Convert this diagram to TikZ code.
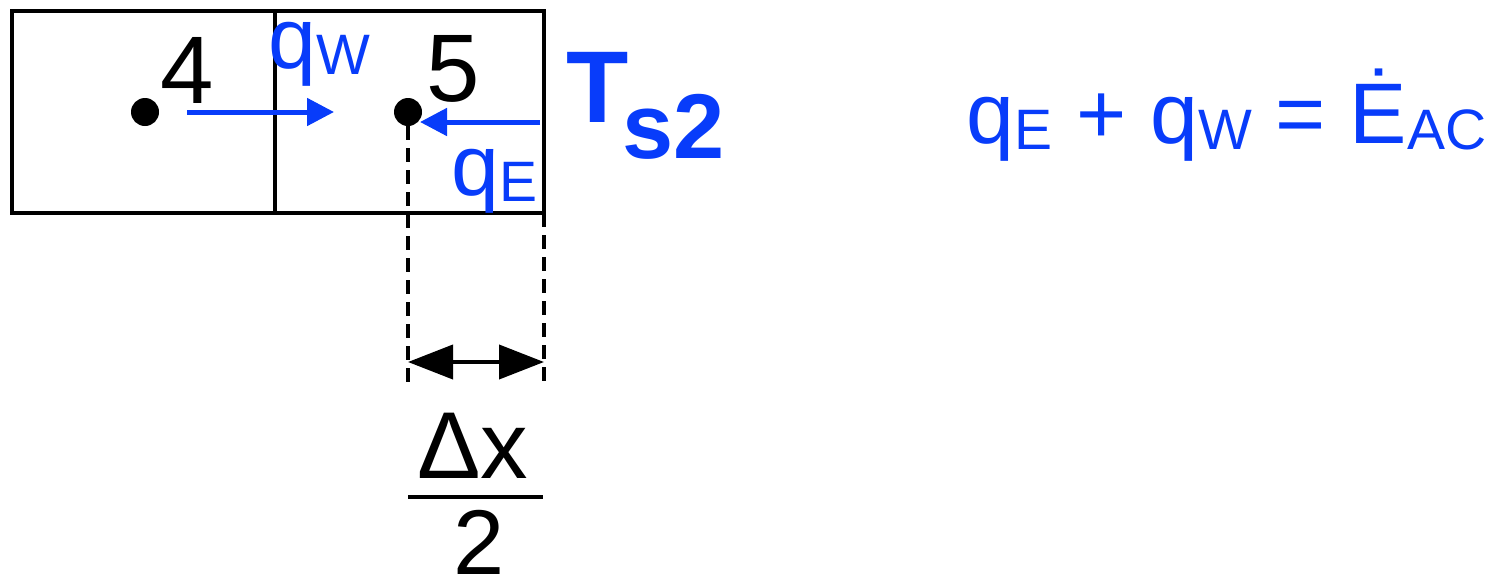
\documentclass[tikz,border=0pt]{standalone}
\usepackage{fontspec}
\setmainfont{Liberation Sans}
\usetikzlibrary{arrows.meta}
\definecolor{fluxblue}{RGB}{8,60,250}
\newcommand{\lowsub}[1]{\raisebox{-3pt}{\fontsize{28.5}{30}\selectfont #1}}
\tikzset{
  cell/.style={draw=black, line width=2pt},
  ptdot/.style={circle, fill=black, minimum size=14pt, inner sep=0pt},
  flux/.style={-{Triangle[length=13.5pt, width=13.5pt]}, line width=2.5pt, fluxblue},
  guide/.style={black, line width=2pt, dash pattern=on 7pt off 4pt},
  dimarr/.style={{Triangle[length=22.5pt, width=17pt]}-{Triangle[length=22.5pt, width=17pt]},
                 line width=2pt},
  numlbl/.style={inner sep=0pt, anchor=base west, font=\fontsize{48}{52}\selectfont},
  qlbl/.style={inner sep=0pt, anchor=base west, fluxblue, font=\fontsize{43}{50}\selectfont},
}
\begin{document}
\begin{tikzpicture}[x=0.5pt, y=-0.5pt]
  \useasboundingbox (0,0) rectangle (1492,584);

  % ── CELLS ───────────────────────────────────────────────
  \draw[cell] (12,11) rectangle (544,213);
  \draw[cell] (275,11) -- (275,213);

  % nodal points
  \node[ptdot] (n4) at (145,112) {};
  \node[ptdot] (n5) at (408,112) {};
  \node[numlbl] (l4) at (160,103) {4};
  \node[numlbl] (l5) at (426,101) {5};

  % ── FLUXES ──────────────────────────────────────────────
  \coordinate (qw0) at (187,112); \coordinate (qw1) at (334,112);
  \draw[flux] (qw0) -- (qw1);
  \node[qlbl] (qw) at (268,68) {q\lowsub{W}};
  \coordinate (qe0) at (540,122); \coordinate (qe1) at (420,122);
  \draw[flux] (qe0) -- (qe1);
  \node[qlbl] (qe) at (451,195) {q\lowsub{E}};

  % surface temperature
  \node[inner sep=0pt, anchor=base west, fluxblue, font=\fontsize{51}{55}\selectfont\bfseries]
    (ts) at (566,122) {T\kern-3pt\raisebox{-18pt}{\fontsize{46}{50}\selectfont s2}};

  % ── HALF CELL WIDTH ─────────────────────────────────────
  \coordinate (d5) at (408,383);
  \coordinate (b5) at (544,213); \coordinate (db) at (544,383);
  \draw[guide] (n5.south) -- (d5);
  \draw[guide] (b5) -- (db);
  \coordinate (a0) at (408,362); \coordinate (a1) at (544,362);
  \draw[dimarr] (a0) -- (a1);
  \node[inner sep=0pt, anchor=base, font=\fontsize{47.5}{52}\selectfont] (dx) at (473,478) {Δx};
  \draw[line width=2pt] (408,497) -- (543,497);
  \node[inner sep=0pt, anchor=base, font=\fontsize{46}{50}\selectfont] (two) at (479,574) {2};

  % ── ENERGY BALANCE ──────────────────────────────────────
  \node[qlbl] (bal) at (966,143) {q\lowsub{E} + q\lowsub{W} = \.E\lowsub{AC}};
\end{tikzpicture}
\end{document}
